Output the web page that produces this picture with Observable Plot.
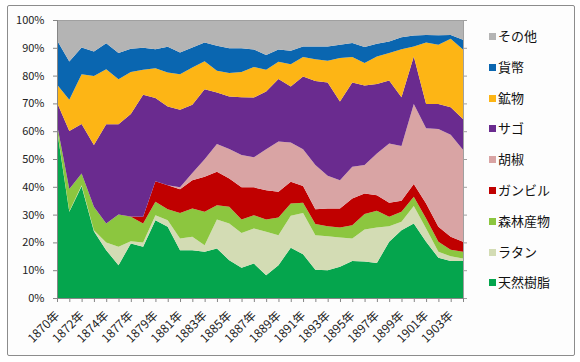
<!DOCTYPE html>
<html><head><meta charset="utf-8">
<script src="https://cdn.jsdelivr.net/npm/d3@7"></script>
<script src="https://cdn.jsdelivr.net/npm/@observablehq/plot@0.6"></script>
<style>
body{margin:0;background:#fff;}
#wrap{position:relative;width:580px;height:362px;background:#fff;font-family:"Noto Sans CJK JP",sans-serif;overflow:hidden;}
#frame{position:absolute;left:7px;top:5px;width:566px;height:349px;border:1px solid #8c8c8c;border-radius:2px;background:#fdfdfd;}
#chart{position:absolute;left:0;top:0;}
.item{position:absolute;left:489px;white-space:nowrap;font-size:13px;color:#111;line-height:16px;height:16px;}
.sw{display:inline-block;width:7px;height:7px;margin-right:2px;vertical-align:1px;}
</style></head>
<body>
<div id="wrap"><div id="frame"></div><div id="chart"></div><div id="legend"></div></div>
<script>
const years = [1870,1871,1872,1873,1874,1876,1877,1878,1879,1880,1881,1882,1883,1884,1885,1886,1887,1888,1889,1890,1891,1892,1893,1894,1895,1896,1897,1898,1899,1900,1901,1902,1903,1904];

// series, bottom to top (percent shares)
const resin   = [60.5,31.0,40.2,24.0,17.2,11.8,19.6,18.4,28.0,25.6,17.2,17.2,16.6,17.8,13.6,10.9,12.4,8.2,11.8,18.1,15.7,10.2,10.0,11.2,13.3,13.1,12.6,20.2,24.4,26.8,20.2,14.5,13.3,13.3];
const rattan  = [0.3,0.2,0.4,0.4,2.8,6.6,0.8,1.6,1.8,2.4,4.2,4.8,2.4,10.4,13.2,12.5,12.6,15.6,10.8,11.5,14.9,12.4,12.2,10.6,8.1,11.5,12.8,5.6,3.0,6.3,4.8,2.1,1.7,0.9];
const forest  = [1.7,8.0,4.2,8.4,6.8,11.6,8.8,6.8,4.8,3.9,9.2,10.2,12.0,5.2,6.0,4.8,4.8,4.4,6.4,4.4,3.7,4.0,3.6,3.6,4.8,5.6,6.0,3.4,3.6,3.3,3.6,3.6,2.4,2.4];
const gambir  = [0,0,0,0,0,0,0.1,2.4,7.4,8.7,8.5,10.2,12.6,12.0,10.2,11.6,10.0,10.6,9.2,7.8,6.0,5.3,6.4,6.8,9.6,7.4,5.6,5.1,4.0,4.6,5.4,5.4,4.6,3.6];
const pepper  = [0,0,0,0,0,0,0,0,0,0,0.7,2.6,6.3,10.0,10.6,11.6,10.8,14.7,18.1,14.1,13.2,15.9,11.8,10.2,11.4,10.2,15.0,21.3,19.7,28.8,27.1,35.2,36.7,33.1];
const sago    = [7.8,20.9,17.8,22.2,35.7,32.5,36.9,43.9,29.9,28.3,27.9,24.5,25.2,18.5,18.9,20.8,21.5,20.8,22.5,20.2,26.2,30.3,33.5,28.3,30.3,28.6,25.0,22.6,17.5,17.1,8.7,9.0,9.9,11.1];
const mineral = [6.5,11.2,17.9,24.9,19.8,16.2,15.1,9.0,10.7,12.2,12.8,13.4,10.1,7.8,8.4,9.1,11.0,7.8,6.2,8.0,7.0,7.8,7.8,15.6,9.2,8.1,9.9,9.9,17.3,3.6,22.1,21.3,24.7,25.0];
const coin    = [15.9,13.8,9.6,8.8,9.3,9.4,8.4,7.9,6.9,9.3,7.8,7.2,6.7,9.0,8.9,8.5,6.3,5.3,4.4,4.8,3.8,4.6,5.2,4.8,5.0,5.8,4.6,4.2,4.3,3.9,2.7,3.4,1.3,3.5];
const other   = [7.3,14.9,9.9,11.3,8.4,11.9,10.3,10.0,10.5,9.6,11.7,9.9,8.1,9.3,10.2,10.2,10.6,12.6,10.6,11.1,9.5,9.5,9.5,8.9,8.3,9.7,8.5,7.7,6.2,5.6,5.4,5.5,5.4,7.1];

const seriesNames = ["天然樹脂","ラタン","森林産物","ガンビル","胡椒","サゴ","鉱物","貨幣","その他"];
const seriesValues = [resin, rattan, forest, gambir, pepper, sago, mineral, coin, other];
const seriesColors = ["#05a54d","#d3dcb4","#8cc63f","#c00000","#d9a4a4","#6a2b8f","#fdb515","#0a66b0","#b4b4b4"];
const yTicks = [0,0.1,0.2,0.3,0.4,0.5,0.6,0.7,0.8,0.9,1];

const table = [];
seriesNames.forEach((name, s) => {
  seriesValues[s].forEach((v, i) => table.push({i, year: years[i], series: name, value: v}));
});

const chart = Plot.plot({
  width: 580, height: 362,
  marginLeft: 57, marginRight: 117, marginTop: 20, marginBottom: 64,
  style: {fontFamily: '"Noto Sans CJK JP", sans-serif', fontSize: "11px", color: "#222", background: "transparent", overflow: "visible"},
  x: {type: "linear", domain: [0, years.length - 1]},
  y: {domain: [0, 1]},
  color: {domain: seriesNames, range: seriesColors},
  marks: [
    Plot.areaY(table, {x: "i", y: "value", z: "series", fill: "series", order: seriesNames, offset: "normalize"}),
    Plot.frame({stroke: "#a0a0a0"}),
    Plot.ruleX([0], {stroke: "#868686"}),
    Plot.ruleY([0], {stroke: "#868686"}),
    Plot.axisY({ticks: yTicks, tickFormat: d3.format(".0%"), tickSize: 4, tickPadding: 9, stroke: "#868686", label: null}),
    Plot.axisY({anchor: "right", ticks: yTicks, tickFormat: () => "", tickSize: 3, stroke: "#a0a0a0", label: null}),
    Plot.axisX({ticks: d3.range(years.length), tickFormat: i => i % 2 === 0 ? years[i] + "年" : "", tickRotate: -45, tickSize: 4, tickPadding: 11, fontSize: 12, stroke: "#868686", label: null})
  ]
});
document.getElementById("chart").appendChild(chart);

const legend = document.getElementById("legend");
const legendOrder = seriesNames.slice().reverse();
legendOrder.forEach((name, k) => {
  const idx = seriesNames.indexOf(name);
  const d = document.createElement("div");
  d.className = "item";
  d.style.top = (28 + k * 30.8) + "px";
  d.innerHTML = `<span class="sw" style="background:${seriesColors[idx]}"></span>${name}`;
  legend.appendChild(d);
});
</script>
</body></html>
